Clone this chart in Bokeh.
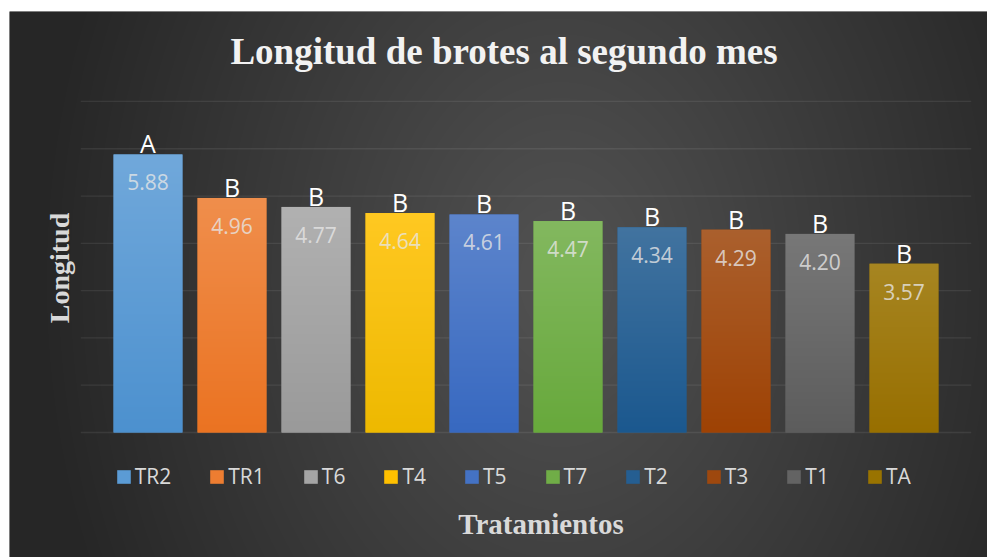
import numpy as np
from bokeh.plotting import figure
from bokeh.models import Range1d, Label, ColumnDataSource
from bokeh.core.properties import value
from bokeh.embed import file_html
from bokeh.resources import INLINE

# ---------------- data ----------------
categories = ["TR2", "TR1", "T6", "T4", "T5", "T7", "T2", "T3", "T1", "TA"]
values = [5.88, 4.96, 4.77, 4.64, 4.61, 4.47, 4.34, 4.29, 4.20, 3.57]
groups = ["A", "B", "B", "B", "B", "B", "B", "B", "B", "B"]
colors = ["#5B9BD5", "#ED7D31", "#A5A5A5", "#FFC000", "#4472C4",
          "#70AD47", "#255E91", "#9E480E", "#636363", "#997300"]
grid_ticks = [0, 1, 2, 3, 4, 5, 6, 7]
chart_title = "Longitud de brotes al segundo mes"
y_title = "Longitud"
x_title = "Tratamientos"

# ---------------- layout ----------------
W, H = 987, 557
BT, BL = 11, 9             # white strip top/left
FW, FH = W - BL, H - BT    # frame size
X0_PX, DX_PX = 138.5, 84.0   # first bar centre (frame px), px per category
Y0_PX, DY_PX = 421.0, 47.29  # baseline (frame px from top), px per unit

x_start, x_end = -X0_PX / DX_PX, (FW - X0_PX) / DX_PX
y_start, y_end = -(FH - Y0_PX) / DY_PX, Y0_PX / DY_PX


def fx(px):
    return (px - X0_PX) / DX_PX


def fy(py):
    return (Y0_PX - py) / DY_PX


p = figure(width=W, height=H, output_backend="svg", toolbar_location=None,
           x_axis_type=None, y_axis_type=None,
           x_range=Range1d(x_start, x_end), y_range=Range1d(y_start, y_end),
           min_border=0, min_border_top=BT, min_border_left=BL,
           min_border_right=0, min_border_bottom=0)
p.border_fill_color = "white"
p.background_fill_color = "#3a3a3a"
p.outline_line_color = None

# ---------------- background radial gradient ----------------
yy, xx = np.mgrid[0:FH, 0:FW]
py = (FH - 1 - yy) + 0.5
px = xx + 0.5
cx, cy = 551.0, 269.0
d = np.sqrt(((px - cx) / 520.0) ** 2 + ((py - cy) / 700.0) ** 2)
lum = (82 - 44 * np.clip(d, 0, 1)).round().astype(np.uint8)
bg = np.empty((FH, FW), dtype=np.uint32)
bv = bg.view(dtype=np.uint8).reshape((FH, FW, 4))
bv[..., 0] = lum
bv[..., 1] = lum
bv[..., 2] = lum
bv[..., 3] = 255
p.image_rgba(image=[bg], x=x_start, y=y_start, dw=x_end - x_start, dh=y_end - y_start)

# ---------------- gridlines ----------------
n = len(categories)
p.segment(x0=-0.8, x1=n - 1 + 0.8, y0=grid_ticks, y1=grid_ticks,
          line_color="white", line_alpha=0.08, line_width=1.3)

# ---------------- bars ----------------
bw = 0.82
xs = list(range(n))
src = ColumnDataSource(dict(x=xs, top=values, color=colors, cat=categories))
p.vbar(x="x", top="top", width=bw, source=src, fill_color="color",
       line_color=None, legend_field="cat")


def hex2rgb(h):
    h = h.lstrip("#")
    return [int(h[i:i + 2], 16) for i in (0, 2, 4)]


N = 256
bar_imgs = []
for c in colors:
    base = np.array(hex2rgb(c), float)
    top = base + (255 - base) * 0.13
    m = base.mean()
    bottom = np.clip(base + (base - m) * 0.15, 0, 255) * 0.93
    f = np.linspace(0, 1, N)[:, None]
    col = bottom[None, :] + (top - bottom)[None, :] * f
    img = np.empty((N, 1), dtype=np.uint32)
    v = img.view(dtype=np.uint8).reshape((N, 1, 4))
    v[:, 0, :3] = np.clip(col.round(), 0, 255).astype(np.uint8)
    v[:, 0, 3] = 255
    bar_imgs.append(img)

p.image_rgba(image=bar_imgs, x=[x - bw / 2 for x in xs], y=[0] * n,
             dw=[bw] * n, dh=values)

# ---------------- bar labels ----------------
p.text(x=xs, y=values, text=[f"{v:.2f}" for v in values],
       text_align="center", text_baseline="alphabetic", y_offset=28,
       text_color="#e6e6e6", text_alpha=0.8,
       text_font=value("Open Sans"), text_font_size="21px")
p.text(x=xs, y=values, text=groups,
       text_align="center", text_baseline="alphabetic", y_offset=-11,
       text_color="#ffffff",
       text_font=value("Open Sans"), text_font_size="25px")

# ---------------- titles ----------------
p.add_layout(Label(x=fx(494.5), y=fy(40), text=chart_title,
                   text_align="center", text_baseline="alphabetic",
                   text_font="Liberation Serif", text_font_style="bold",
                   text_font_size="37px", text_color="#f2f2f2"))
p.add_layout(Label(x=fx(50), y=fy(256.5), text=y_title, angle=np.pi / 2,
                   text_align="center", text_baseline="middle",
                   text_font="Liberation Serif", text_font_style="bold",
                   text_font_size="28px", text_color="#d9d9d9"))
p.add_layout(Label(x=fx(531.5), y=fy(512), text=x_title,
                   text_align="center", text_baseline="alphabetic",
                   text_font="Liberation Serif", text_font_style="bold",
                   text_font_size="29px", text_color="#d9d9d9"))

# ---------------- legend ----------------
lg = p.legend[0]
lg.orientation = "horizontal"
lg.location = (105.75, 67)
lg.padding = 0
lg.margin = 0
lg.spacing = 37
lg.glyph_width = 17
lg.glyph_height = 17
lg.label_standoff = 3
lg.label_text_font = "Open Sans"
lg.label_text_font_size = "21px"
lg.label_text_color = "#d9d9d9"
lg.background_fill_alpha = 0
lg.border_line_alpha = 0

open("out.html", "w").write(file_html(p, INLINE))
